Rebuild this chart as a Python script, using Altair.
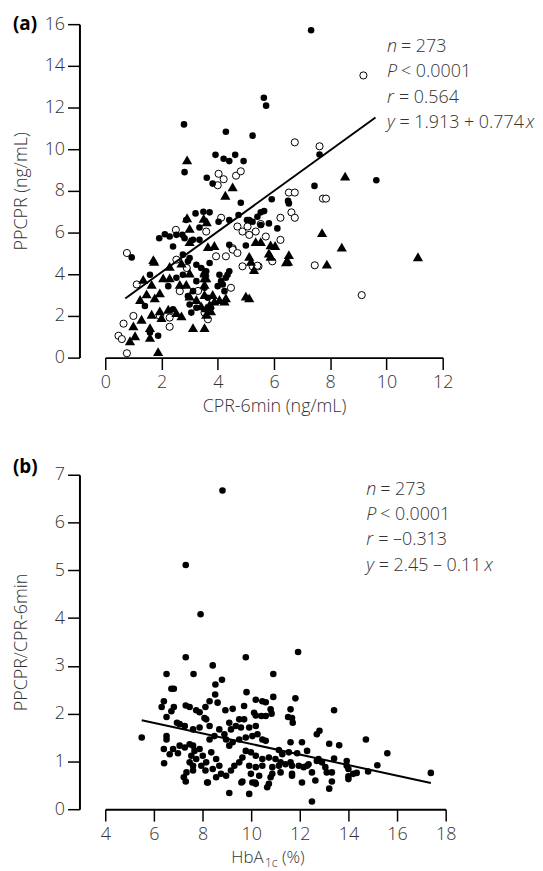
import altair as alt
import pandas as pd

# ---------------- Panel (a): CPR-6min vs PPCPR ----------------
a_filled_x = [7.32, 5.64, 5.72, 2.80, 4.29, 5.24, 7.62, 3.92, 4.21, 4.41, 4.62, 4.92, 2.82, 3.61, 3.82,
              4.82, 5.92, 6.50, 6.53, 7.44, 9.64, 3.21, 3.49, 3.71, 4.03, 4.41, 4.74, 3.35, 2.53, 2.29,
              2.12, 1.92, 2.74, 2.82, 2.41, 3.12, 3.35, 5.12, 5.24, 5.53, 5.65, 5.41, 6.12, 4.41, 5.00,
              0.94, 2.76, 3.00, 3.24, 3.41, 3.59, 3.71, 4.41, 1.59, 1.41, 2.24, 2.53, 2.76, 3.24, 3.12,
              2.94, 4.06, 4.18, 4.29, 3.00, 3.24, 3.06, 2.41, 1.59, 1.88, 2.94, 3.53, 3.65, 4.00, 4.12,
              4.35, 4.24, 3.76, 2.88, 5.82, 5.04, 5.53]
a_filled_y = [15.71, 12.47, 12.09, 11.19, 10.84, 10.65, 9.75, 9.73, 9.54, 9.43, 9.73, 9.43, 8.90, 8.63, 8.35,
              7.43, 7.60, 7.52, 7.40, 8.24, 8.51, 6.92, 7.00, 6.97, 6.52, 6.60, 6.84, 6.24, 5.89, 5.81,
              5.92, 5.73, 5.89, 5.73, 5.33, 5.65, 5.65, 6.60, 6.52, 6.97, 7.03, 6.76, 6.20, 5.41, 5.38,
              4.81, 4.94, 4.78, 4.46, 4.30, 4.14, 4.54, 4.14, 3.98, 2.48, 3.43, 3.83, 3.98, 3.67, 3.19,
              2.95, 3.98, 3.51, 3.83, 2.55, 2.39, 2.16, 2.32, 1.21, 1.05, 4.62, 3.35, 2.87, 3.43, 3.67,
              3.98, 3.19, 2.39, 6.60, 6.44, 6.60, 6.36]

a_open_x = [9.18, 6.74, 7.62, 4.03, 4.21, 4.00, 4.65, 4.82, 6.53, 6.74, 7.74, 7.85, 4.12, 3.59, 2.51,
            4.70, 4.88, 5.06, 5.12, 5.35, 5.53, 6.23, 6.62, 6.74, 5.71, 6.23, 4.53, 0.77, 2.53, 3.94,
            4.29, 4.53, 4.70, 4.88, 5.24, 5.45, 5.94, 7.45, 1.12, 2.65, 4.47, 3.53, 3.65, 1.00, 1.94,
            2.29, 2.29, 0.65, 0.47, 0.59, 0.77, 5.41, 9.12, 2.90, 3.30]
a_open_y = [13.54, 10.33, 10.14, 8.82, 8.56, 8.27, 8.73, 8.94, 7.92, 7.92, 7.63, 7.63, 6.71, 6.05, 6.13,
            6.29, 6.05, 6.29, 5.89, 6.05, 6.41, 6.71, 6.97, 6.71, 5.81, 5.65, 5.25, 5.02, 4.70, 4.86,
            4.86, 5.18, 5.02, 4.38, 4.38, 4.38, 4.62, 4.43, 3.51, 3.19, 3.35, 2.16, 1.84, 2.00, 2.00,
            1.92, 1.48, 1.63, 1.05, 0.89, 0.21, 4.41, 3.00, 4.30, 3.20]

a_tri_x = [2.91, 4.53, 4.27, 2.91, 3.50, 3.61, 3.00, 3.00, 5.35, 5.53, 7.71, 3.65, 3.88, 5.88, 6.04,
           1.71, 1.74, 2.29, 2.71, 5.12, 5.18, 5.82, 5.88, 6.50, 6.53, 7.88, 1.35, 1.47, 1.24, 1.65,
           1.94, 1.76, 2.06, 2.29, 2.65, 2.88, 3.00, 3.53, 3.59, 3.53, 3.00, 3.24, 3.53, 3.82, 4.06,
           4.24, 5.00, 3.71, 3.59, 3.76, 1.29, 1.65, 1.94, 2.24, 2.53, 2.71, 2.00, 3.12, 3.53, 1.00,
           0.88, 1.06, 1.59, 1.59, 1.88, 4.29, 3.88, 3.41, 3.59, 8.53, 8.41, 6.43, 11.12, 5.29, 5.12,
           3.53, 3.53]
a_tri_y = [9.49, 8.19, 7.79, 6.71, 6.68, 6.52, 6.20, 5.57, 5.57, 5.57, 6.00, 5.33, 5.38, 5.41, 5.38,
           4.70, 4.62, 4.38, 4.54, 4.86, 4.62, 5.02, 4.86, 4.62, 4.94, 4.49, 3.75, 3.06, 2.79, 3.51,
           3.11, 2.87, 3.83, 3.83, 3.51, 3.51, 4.06, 4.06, 3.83, 3.51, 2.95, 2.79, 3.03, 3.03, 2.79,
           2.71, 2.95, 2.55, 2.39, 2.24, 1.84, 2.08, 2.24, 2.32, 2.16, 2.00, 1.92, 1.44, 1.44, 1.52,
           0.81, 1.05, 1.44, 0.97, 0.29, 2.87, 2.71, 2.48, 2.08, 8.71, 5.30, 4.59, 4.84, 4.22, 2.87,
           4.14, 3.83]

a_line_x = [0.71, 9.61]
a_line_y = [2.84, 11.52]

a_xticks = [0, 2, 4, 6, 8, 10, 12]
a_yticks = [0, 2, 4, 6, 8, 10, 12, 14, 16]

# ---------------- Panel (b): HbA1c vs PPCPR/CPR-6min ----------------
b_x = [8.82, 7.31, 7.92, 11.93, 7.31, 9.78, 6.52, 7.63, 8.42, 10.91, 8.53, 8.80, 6.72, 6.82, 8.52,
       9.81, 11.82, 10.91, 6.41, 6.32, 6.82, 6.72, 7.31, 7.47, 7.74, 7.88, 8.29, 8.62, 8.12, 8.94,
       9.24, 9.71, 10.19, 10.46, 10.60, 10.80, 10.84, 10.60, 10.42, 10.19, 10.12, 11.62, 11.68, 11.52, 6.52,
       6.95, 7.06, 7.27, 7.61, 7.88, 8.15, 8.29, 5.50, 6.52, 6.52, 6.41, 6.79, 6.99, 6.65, 6.42,
       7.06, 7.27, 7.47, 7.61, 7.67, 7.54, 7.74, 7.47, 7.61, 7.34, 7.23, 7.31, 7.61, 7.88, 8.01,
       8.15, 7.95, 8.12, 8.22, 8.29, 8.49, 8.69, 8.90, 9.17, 9.37, 9.51, 9.71, 9.92, 10.19, 8.97,
       9.10, 9.24, 9.51, 9.78, 10.05, 10.26, 10.46, 10.60, 8.36, 8.56, 8.69, 8.42, 8.76, 8.97, 9.17,
       9.31, 9.51, 9.64, 8.56, 9.10, 9.92, 9.64, 10.05, 10.19, 10.66, 10.73, 10.80, 9.78, 9.99, 10.19,
       10.46, 10.73, 11.00, 11.21, 11.41, 11.62, 9.92, 10.19, 10.46, 10.87, 11.14, 9.99, 10.33, 10.87, 11.21,
       11.68, 11.96, 12.16, 12.30, 12.50, 12.64, 12.77, 12.70, 12.09, 11.62, 12.09, 12.30, 12.50, 9.10, 9.58,
       8.08, 11.71, 13.41, 12.81, 14.72, 13.21, 13.62, 15.60, 11.14, 11.28, 11.55, 11.89, 11.68, 12.36, 12.70,
       12.91, 13.05, 13.11, 13.32, 13.41, 13.93, 13.93, 14.00, 14.00, 14.20, 14.34, 14.81, 15.19, 11.68, 13.32,
       13.21, 17.39, 8.19, 9.60, 10.16, 14.00]
b_y = [6.67, 5.11, 4.08, 3.29, 3.18, 3.18, 2.83, 2.83, 3.01, 2.83, 2.61, 2.71, 2.52, 2.52, 2.40,
       2.45, 2.32, 2.35, 2.26, 2.14, 2.14, 2.05, 2.17, 2.14, 2.07, 2.03, 2.26, 2.23, 2.14, 2.07,
       2.10, 2.16, 2.29, 2.26, 2.24, 2.09, 2.00, 1.95, 1.95, 1.96, 2.02, 2.09, 1.91, 1.93, 1.93,
       1.81, 1.78, 1.74, 1.67, 1.71, 1.88, 1.74, 1.50, 1.53, 1.46, 1.26, 1.26, 1.17, 1.15, 0.96,
       1.33, 1.29, 1.36, 1.33, 1.22, 1.12, 1.05, 0.98, 0.91, 0.77, 0.67, 0.58, 0.81, 1.26, 1.12,
       0.98, 0.91, 0.81, 0.56, 1.46, 1.53, 1.67, 1.57, 1.67, 1.74, 1.88, 1.88, 1.71, 1.74, 1.46,
       1.33, 1.40, 1.46, 1.50, 1.53, 1.57, 1.46, 1.43, 1.19, 1.05, 0.91, 0.84, 0.74, 0.70, 0.81,
       0.91, 0.98, 1.08, 0.67, 0.34, 0.32, 0.58, 0.56, 0.53, 0.46, 0.53, 0.67, 1.22, 1.19, 1.12,
       1.05, 1.08, 1.05, 0.98, 0.94, 0.98, 0.91, 0.88, 0.91, 0.88, 0.91, 0.74, 0.70, 0.74, 0.77,
       0.74, 0.91, 0.88, 0.91, 0.77, 0.60, 1.05, 1.57, 0.56, 1.40, 1.40, 1.22, 0.16, 1.81, 1.71,
       1.91, 1.81, 2.07, 1.64, 1.46, 1.37, 1.34, 1.17, 1.24, 1.15, 1.19, 1.17, 0.91, 0.94, 1.01,
       0.98, 0.88, 0.77, 0.77, 1.06, 1.01, 0.91, 0.84, 0.69, 0.74, 0.76, 0.79, 0.92, 0.70, 0.58,
       0.43, 0.76, 0.56, 0.56, 0.56, 0.63]

b_line_x = [5.50, 17.39]
b_line_y = [1.86, 0.55]

b_xticks = [4, 6, 8, 10, 12, 14, 16, 18]
b_yticks = [0, 1, 2, 3, 4, 5, 6, 7]

FONT = "Open Sans"
TXT = "#333333"
ONE = pd.DataFrame({"k": [0]})


def txt(x, y, s, size=18, italic=False, bold=False, align="left", color=TXT):
    return alt.Chart(ONE).mark_text(
        text=s, align=align, baseline="middle", fontSize=size, font=FONT,
        fontStyle="italic" if italic else "normal",
        fontWeight="bold" if bold else 300, color=color,
    ).encode(x=alt.value(x), y=alt.value(y))


def axis_x(values, title, title_pad=8, label_pad=4):
    return alt.Axis(values=values, title=title, grid=False, labelPadding=label_pad,
                    titlePadding=title_pad, labelFlush=False)


def axis_y(values, title, title_pad):
    return alt.Axis(values=values, title=title, grid=False, offset=26, labelPadding=3,
                    titlePadding=title_pad)


# ----- panel (a) -----
WA, HA = 340, 336
xa = alt.X("x:Q", scale=alt.Scale(domain=[0, 12], nice=False, zero=False),
           axis=axis_x(a_xticks, "CPR-6min (ng/mL)", 6))
ya = alt.Y("y:Q", scale=alt.Scale(domain=[0, 16], nice=False, zero=False),
           axis=axis_y(a_yticks, "PPCPR (ng/mL)", 14))

a_open = alt.Chart(pd.DataFrame({"x": a_open_x, "y": a_open_y})).mark_point(
    shape="circle", size=52, filled=False, fill="white", stroke="black", strokeWidth=1, opacity=1
).encode(x=xa, y=ya)
a_fill = alt.Chart(pd.DataFrame({"x": a_filled_x, "y": a_filled_y})).mark_point(
    shape="circle", size=44, filled=True, color="black", opacity=1
).encode(x=xa, y=ya)
a_tri = alt.Chart(pd.DataFrame({"x": a_tri_x, "y": a_tri_y})).mark_point(
    shape="triangle-up", size=105, filled=True, color="black", opacity=1
).encode(x=xa, y=ya)
a_line = alt.Chart(pd.DataFrame({"x": a_line_x, "y": a_line_y})).mark_line(
    color="black", strokeWidth=2
).encode(x=xa, y=ya)

x0 = 284
a_text = [
    txt(-93, 0, "(a)", size=19, bold=True, color="black"),
    txt(x0, 22.6, "n", italic=True), txt(x0 + 14, 22.6, "= 273"),
    txt(x0, 48.4, "P", italic=True), txt(x0 + 14, 48.4, "< 0.0001"),
    txt(x0, 74.2, "r", italic=True), txt(x0 + 12, 74.2, "= 0.564"),
    txt(x0, 100, "y", italic=True), txt(x0 + 12.5, 100, "= 1.913 + 0.774"),
    txt(x0 + 140, 100, "x", italic=True),
]

panel_a = alt.layer(a_open, a_fill, a_tri, a_line, *a_text).properties(width=WA, height=HA)

# ----- panel (b) -----
WB, HB = 343, 337
xb = alt.X("x:Q", scale=alt.Scale(domain=[4, 18], nice=False, zero=False),
           axis=axis_x(b_xticks, None, 8, 5))
yb = alt.Y("y:Q", scale=alt.Scale(domain=[0, 7], nice=False, zero=False),
           axis=axis_y(b_yticks, "PPCPR/CPR-6min", 24))

b_pts = alt.Chart(pd.DataFrame({"x": b_x, "y": b_y})).mark_point(
    shape="circle", size=44, filled=True, color="black", opacity=1
).encode(x=xb, y=yb)
b_line = alt.Chart(pd.DataFrame({"x": b_line_x, "y": b_line_y})).mark_line(
    color="black", strokeWidth=2
).encode(x=xb, y=yb)

x1 = 263
b_text = [
    txt(-93, -7.5, "(b)", size=19, bold=True, color="black"),
    txt(x1, 15.8, "n", italic=True), txt(x1 + 14, 15.8, "= 273"),
    txt(x1, 40.5, "P", italic=True), txt(x1 + 14, 40.5, "< 0.0001"),
    txt(x1, 65.8, "r", italic=True), txt(x1 + 12, 65.8, "= \u20130.313"),
    txt(x1, 91.5, "y", italic=True), txt(x1 + 12.5, 91.5, "= 2.45 \u2013 0.11"),
    txt(x1 + 119, 91.5, "x", italic=True),
    # x-axis title HbA1c (%) with subscript
    txt(127, 386, "HbA", size=17), txt(161, 391, "1c", size=12), txt(178, 386, "(%)", size=17),
]

panel_b = alt.layer(b_pts, b_line, *b_text).properties(width=WB, height=HB)

chart = alt.vconcat(panel_a, panel_b, spacing=43).properties(
    padding={"left": 4, "top": 4, "right": 0, "bottom": 0}
).configure_view(stroke=None).configure_axis(
    domainColor="black", domainWidth=2, tickColor="black", tickWidth=1.5, tickSize=12,
    labelFont=FONT, labelFontSize=18, labelColor=TXT, labelFontWeight=300,
    titleFont=FONT, titleFontSize=18, titleColor=TXT, titleFontWeight=300,
)

chart.save("out.html", embed_options={"renderer": "svg", "actions": False})
